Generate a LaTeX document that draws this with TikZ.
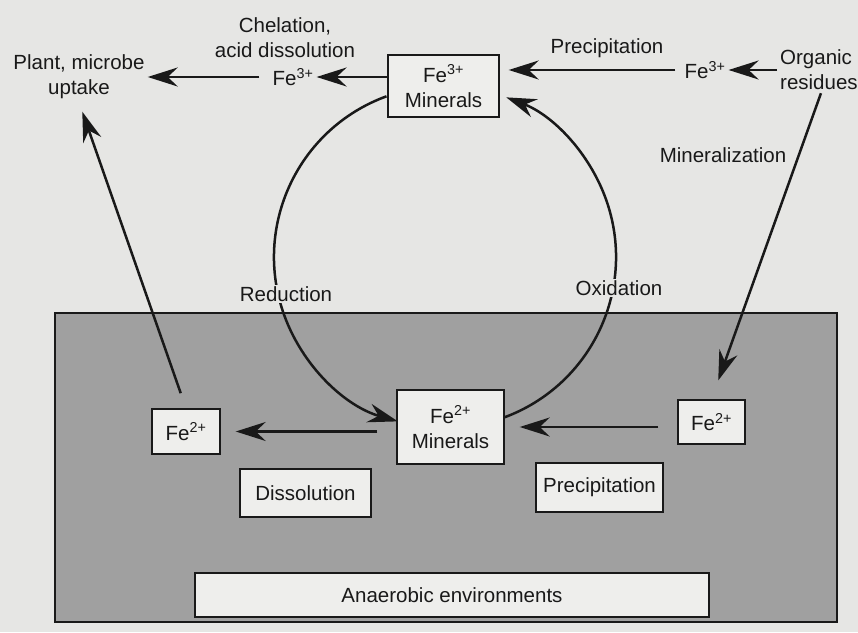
\documentclass[tikz,border=0pt]{standalone}
\usepackage{fontspec}
\setmainfont{Liberation Sans}
\usetikzlibrary{arrows.meta,calc}
\definecolor{paper}{RGB}{230,230,228}
\definecolor{shade}{RGB}{160,160,160}
\definecolor{boxfill}{RGB}{238,238,236}
\definecolor{ink}{RGB}{25,25,25}
\begin{document}
\begin{tikzpicture}[x=1pt,y=1pt,
  every node/.style={font=\fontsize{20.5}{25}\selectfont, text=ink},
  box/.style={draw=ink, line width=1.4pt, fill=boxfill, inner sep=2pt, align=center},
  zone/.style={draw=ink, line width=1.4pt, fill=shade, inner sep=0pt},
  lbl/.style={inner sep=3pt, align=center},
  cut/.style={inner sep=1pt, fill=paper},
  arr/.style={draw=ink, line width=2.5pt, -{Stealth[length=30pt,width=19pt,inset=10pt]}}]
\useasboundingbox (0,0) rectangle (858,632);
\fill[paper] (0,0) rectangle (858,632);
% anaerobic zone
\node[zone, minimum width=782pt, minimum height=309pt] (zone) at (446,164.5) {};
% boxes
\node[box, minimum width=514pt, minimum height=44pt] (anaer) at (452,37) {Anaerobic environments};
\node[box, minimum width=68pt, minimum height=45pt] (fe2l) at (186,200.5) {Fe\textsuperscript{2+}};
\node[box, minimum width=131pt, minimum height=48pt] (diss) at (305.5,139) {Dissolution};
\node[box, minimum width=107pt, minimum height=74pt] (fe2m) at (450.5,205) {Fe\textsuperscript{2+}\\Minerals};
\node[box, minimum width=67pt, minimum height=44pt] (fe2r) at (711.5,210) {Fe\textsuperscript{2+}};
\node[box, minimum width=127pt, minimum height=49pt] (prec) at (599.5,144.5) {Precipitation};
\node[box, minimum width=111pt, minimum height=62pt] (fe3m) at (443.5,546) {Fe\textsuperscript{3+}\\Minerals};
% free labels
\node[lbl] (plant) at (79,555) {Plant, microbe\\uptake};
\node[lbl] (chel) at (285,594) {Chelation,\\acid dissolution};
\node[lbl] (fe3a) at (293,555) {Fe\textsuperscript{3+}};
\node[lbl] (precl) at (607,584) {Precipitation};
\node[lbl] (fe3b) at (705,562) {Fe\textsuperscript{3+}};
\node[lbl, anchor=west, align=left] (org) at (777,562) {Organic\\residues};
\node[lbl] (minl) at (723,477) {Mineralization};
% connectors
\draw[arr] (fe3m.west |- fe3a) -- (fe3a.east);
\draw[arr] ([xshift=-10pt]fe3a.west) -- (plant.east |- fe3a);
\draw[arr, shorten >=9pt] ([xshift=-6pt]fe3b.west) -- (fe3m.east |- fe3b);
\draw[arr] (org.west |- fe3b) -- (fe3b.east);
\draw[arr, shorten >=20pt] ([xshift=2pt]org.south) -- (fe2r.north);
\draw[arr, shorten <=16pt, shorten >=10pt] (fe2l.north) -- (plant.south);
\draw[arr, shorten <=19pt, shorten >=15pt] (fe2m.west |- fe2l) -- (fe2l.east);
\draw[arr, shorten <=19pt, shorten >=15pt] (fe2r.west |- fe2m) -- (fe2m.east);
% redox cycle
\coordinate (cyc) at (445,375);
\draw[arr] ($(cyc)+(110:171pt)$) arc[start angle=110, end angle=254, radius=171pt];
\draw[arr] ($(cyc)+(-70:171pt)$) arc[start angle=-70, end angle=69, radius=171pt];
\node[cut] (red) at (286,338) {Reduction};
\node[cut] (ox) at (619,344) {Oxidation};
\end{tikzpicture}
\end{document}
